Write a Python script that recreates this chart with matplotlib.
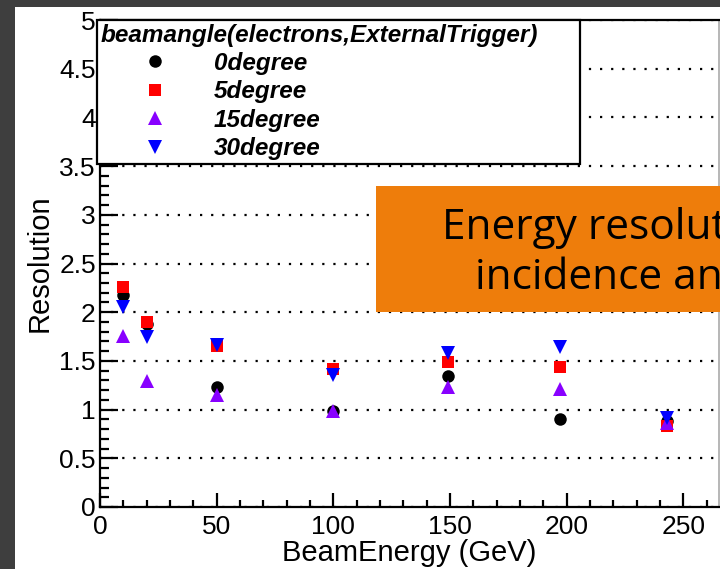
import matplotlib.pyplot as plt
from matplotlib.patches import Rectangle
from matplotlib.ticker import MultipleLocator

# beam energy points (GeV) and resolution for each incidence angle
energy = [10, 20, 50, 100, 149, 197, 243]
res_0deg = [2.18, 1.88, 1.23, 0.99, 1.35, 0.90, 0.88]
res_5deg = [2.26, 1.90, 1.65, 1.42, 1.49, 1.44, 0.83]
res_15deg = [1.76, 1.29, 1.15, 0.99, 1.23, 1.21, 0.86]
res_30deg = [2.05, 1.75, 1.66, 1.36, 1.58, 1.64, 0.91]
angle_labels = ['0degree', '5degree', '15degree', '30degree']

W, H = 720, 569
def fx(px): return px / W
def fy(py): return 1 - py / H

plt.rcParams['font.family'] = ['Liberation Sans', 'DejaVu Sans']
fig = plt.figure(figsize=(7.2, 5.69), dpi=100, facecolor='#3e3e3e')

# white slide area
fig.patches.append(Rectangle((fx(15), 0), 1 - fx(15), fy(7), transform=fig.transFigure,
                             facecolor='white', edgecolor='none', zorder=-5))

ax = fig.add_axes([fx(100), fy(507), fx(719) - fx(100), fy(20) - fy(507)])
ax.set_facecolor('white')

styles = [('o', 'black', 9), ('s', '#ff0000', 9), ('^', '#8800ff', 9.5), ('v', '#0000ff', 9.5)]
series = [res_0deg, res_5deg, res_15deg, res_30deg]
handles = []
for vals, (mk, col, ms), lab in zip(series, styles, angle_labels):
    h, = ax.plot(energy, vals, linestyle='none', marker=mk, color=col,
                 markersize=ms, markeredgewidth=0, label=lab, zorder=3)
    handles.append(h)

ax.set_xlim(0, 265.3)
ax.set_ylim(0, 5)
ax.xaxis.set_major_locator(MultipleLocator(50))
ax.xaxis.set_minor_locator(MultipleLocator(10))
ax.yaxis.set_minor_locator(MultipleLocator(0.1))
ax.set_yticks([0, 0.5, 1, 1.5, 2, 2.5, 3, 3.5, 4, 4.5, 5])
ax.set_yticklabels(['0', '0.5', '1', '1.5', '2', '2.5', '3', '3.5', '4', '4.5', '5'])

ax.tick_params(axis='both', which='both', direction='in', width=1.6, labelsize=19)
ax.tick_params(axis='y', which='major', length=13, pad=3)
ax.tick_params(axis='y', which='minor', length=6.5)
ax.tick_params(axis='x', which='major', length=10, pad=6)
ax.tick_params(axis='x', which='minor', length=5)

for side in ['left', 'bottom', 'top']:
    ax.spines[side].set_linewidth(1.6)
ax.spines['right'].set_linewidth(1.2)
ax.spines['right'].set_color('#aaaaaa')

ax.yaxis.grid(True, which='major', color='black', linestyle=(0, (1, 4)), linewidth=1.6)

ax.set_xlabel('BeamEnergy (GeV)', fontsize=21, labelpad=0)
ax.set_ylabel('Resolution', fontsize=21, labelpad=4)

# legend box in the upper left corner
leg = fig.legend(handles=handles, loc='upper left',
                 bbox_to_anchor=(fx(97), fy(162), fx(580) - fx(97), fy(20) - fy(162)),
                 mode='expand', title='beamangle(electrons,ExternalTrigger)',
                 alignment='left', fancybox=False, framealpha=1, edgecolor='black',
                 prop={'style': 'italic', 'weight': 'bold', 'size': 17.5},
                 title_fontproperties={'style': 'italic', 'weight': 'bold', 'size': 17.5},
                 handlelength=4.5, handletextpad=0.15, labelspacing=0.22,
                 borderpad=0.15, borderaxespad=0)
leg.get_frame().set_linewidth(1.6)
leg.set_zorder(5)

# orange banner
fig.patches.append(Rectangle((fx(376), fy(312)), 1 - fx(376), fy(186) - fy(312),
                             transform=fig.transFigure, facecolor='#ee7d0b',
                             edgecolor='none', zorder=6))
fig.text(fx(442), fy(239), 'Energy resolution vs', fontsize=30.5, family='Open Sans',
         color='black', zorder=7, va='baseline', ha='left')
fig.text(fx(475), fy(289), 'incidence angle', fontsize=30.5, family='Open Sans',
         color='black', zorder=7, va='baseline', ha='left')

fig.savefig('out.png', dpi=100, facecolor=fig.get_facecolor())
